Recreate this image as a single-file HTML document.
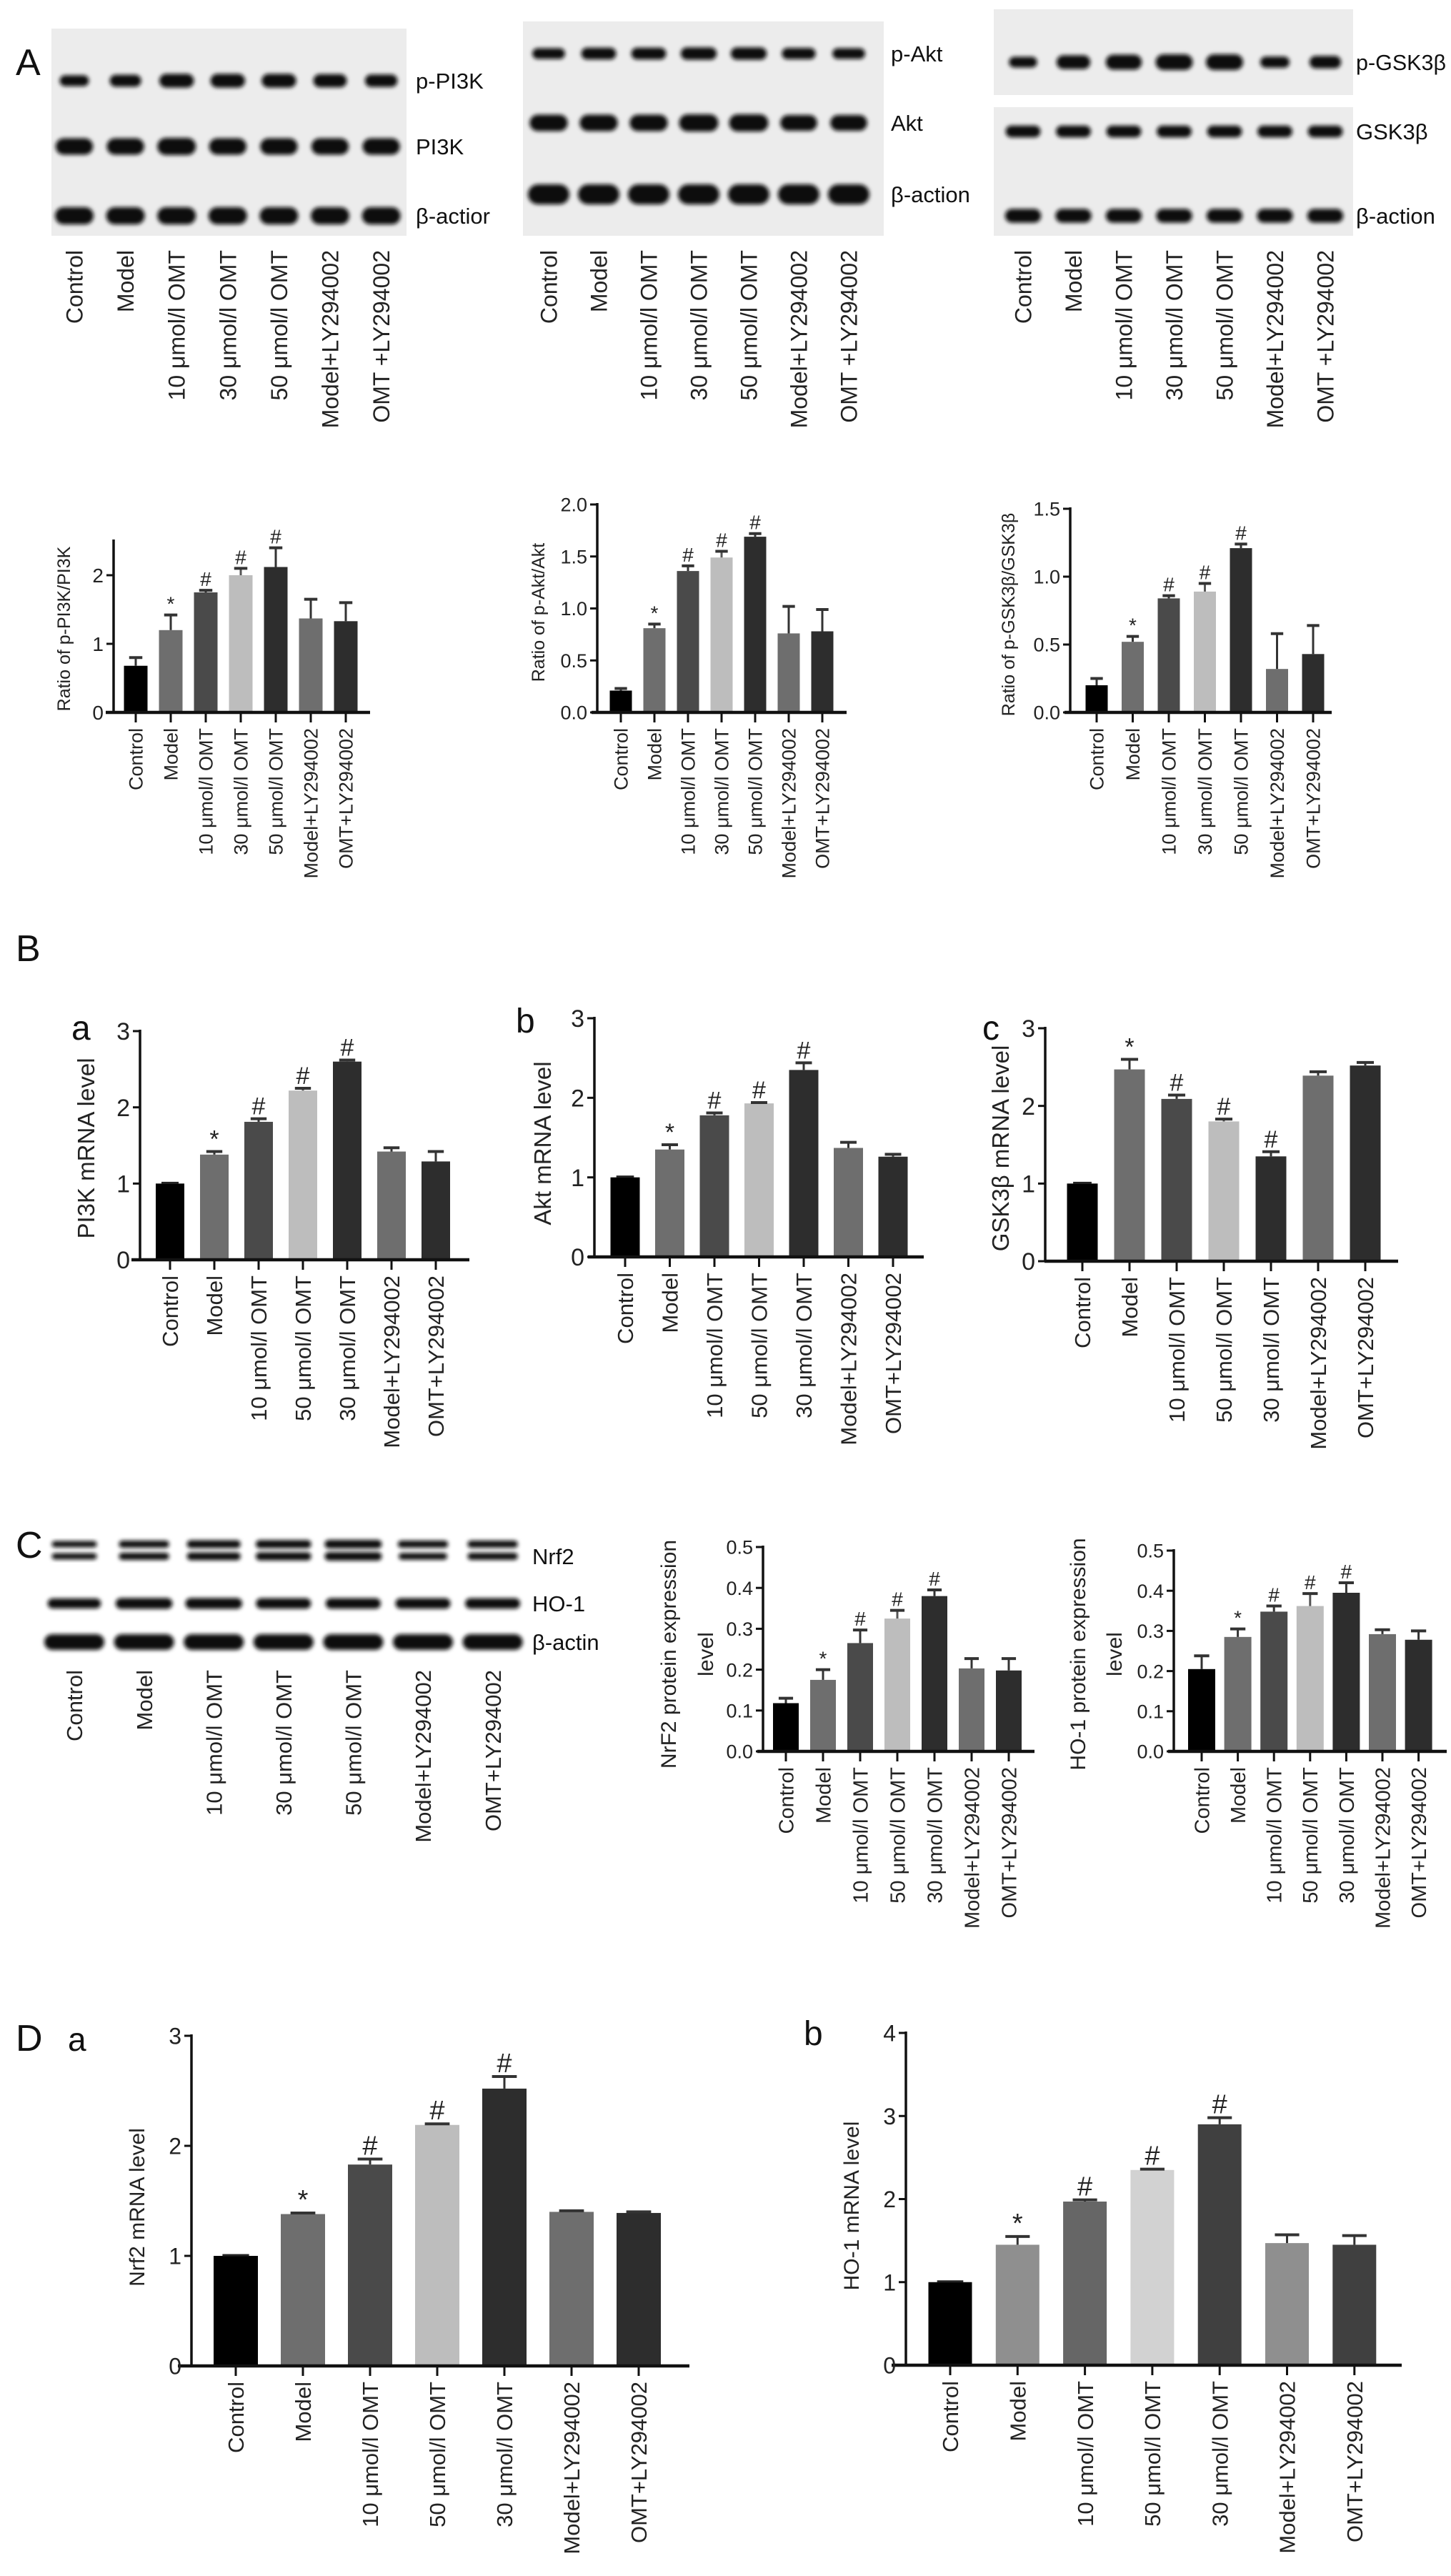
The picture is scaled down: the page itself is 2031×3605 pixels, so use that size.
<!DOCTYPE html>
<html><head><meta charset="utf-8">
<style>
html,body{margin:0;padding:0;background:#fff;}
svg{display:block;font-family:"Liberation Sans",Arial,sans-serif;}
</style></head>
<body>
<svg id="fig" width="2031" height="3605" viewBox="0 0 2031 3605" xmlns="http://www.w3.org/2000/svg">
<defs>
<filter id="blur" x="-20%" y="-50%" width="140%" height="200%"><feGaussianBlur stdDeviation="3"/></filter>
</defs>
<g id="root"></g>
</svg>
<script>
// ===== Data arrays =====
const groupsA = ["Control","Model","10 μmol/l OMT","30 μmol/l OMT","50 μmol/l OMT","Model+LY294002","OMT +LY294002"];
const groupsB = ["Control","Model","10 μmol/l OMT","50 μmol/l OMT","30 μmol/l OMT","Model+LY294002","OMT+LY294002"];
const groupsC = ["Control","Model","10 μmol/l OMT","30 μmol/l OMT","50 μmol/l OMT","Model+LY294002","OMT+LY294002"];
const groupsC2 = ["Control","Model","10 μmol/l OMT","50 μmol/l OMT","30 μmol/l OMT","Model+LY294002","OMT+LY294002"];

const a1Vals = [0.68,1.2,1.75,2.0,2.12,1.37,1.33];
const a1Errs = [0.8,1.42,1.78,2.1,2.4,1.65,1.6];
const a1Marks = ["","*","#","#","#","",""];
const a1Ticks = [0,1,2];
const a1TickLabels = ["0","1","2"];

const a2Vals = [0.21,0.81,1.36,1.49,1.69,0.76,0.78];
const a2Errs = [0.23,0.85,1.41,1.55,1.72,1.02,0.99];
const a2Marks = ["","*","#","#","#","",""];
const a2Ticks = [0,0.5,1,1.5,2];
const a2TickLabels = ["0.0","0.5","1.0","1.5","2.0"];

const a3Vals = [0.2,0.52,0.84,0.89,1.21,0.32,0.43];
const a3Errs = [0.25,0.56,0.86,0.95,1.24,0.58,0.64];
const a3Marks = ["","*","#","#","#","",""];
const a3Ticks = [0,0.5,1,1.5];
const a3TickLabels = ["0.0","0.5","1.0","1.5"];

const baVals = [1.0,1.38,1.81,2.22,2.6,1.42,1.29];
const baErrs = [1.0,1.42,1.85,2.25,2.62,1.47,1.42];
const baMarks = ["","*","#","#","#","",""];
const bbVals = [1.0,1.35,1.78,1.93,2.35,1.37,1.26];
const bbErrs = [1.0,1.41,1.81,1.94,2.44,1.44,1.29];
const bbMarks = ["","*","#","#","#","",""];
const bcVals = [1.0,2.47,2.09,1.8,1.35,2.39,2.52];
const bcErrs = [1.0,2.6,2.14,1.83,1.41,2.44,2.56];
const bcMarks = ["","*","#","#","#","",""];
const bTicks = [0,1,2,3];
const bTickLabels = ["0","1","2","3"];

const c2Vals = [0.118,0.175,0.265,0.325,0.38,0.203,0.198];
const c2Errs = [0.13,0.2,0.297,0.345,0.395,0.227,0.227];
const c2Marks = ["","*","#","#","#","",""];
const c3Vals = [0.205,0.285,0.348,0.362,0.395,0.292,0.278];
const c3Errs = [0.238,0.305,0.362,0.393,0.42,0.303,0.3];
const c3Marks = ["","*","#","#","#","",""];
const cTicks = [0,0.1,0.2,0.3,0.4,0.5];
const cTickLabels = ["0.0","0.1","0.2","0.3","0.4","0.5"];

const daVals = [1.0,1.38,1.83,2.19,2.52,1.4,1.39];
const daErrs = [1.0,1.39,1.88,2.2,2.63,1.41,1.4];
const daMarks = ["","*","#","#","#","",""];
const daTicks = [0,1,2,3];
const daTickLabels = ["0","1","2","3"];
const dbVals = [1.0,1.45,1.97,2.35,2.9,1.47,1.45];
const dbErrs = [1.0,1.55,1.99,2.36,2.98,1.57,1.56];
const dbMarks = ["","*","#","#","#","",""];
const dbTicks = [0,1,2,3,4];
const dbTickLabels = ["0","1","2","3","4"];

// ===== helpers =====
const NS="http://www.w3.org/2000/svg";
const root=document.getElementById('root');
function el(tag,attrs,parent){const e=document.createElementNS(NS,tag);for(const k in attrs)e.setAttribute(k,attrs[k]);(parent||root).appendChild(e);return e;}
function txt(s,attrs,parent){const e=el('text',attrs,parent);e.textContent=s;return e;}

const darkCols=["#000","#6e6e6e","#4a4a4a","#bdbdbd","#2d2d2d","#6e6e6e","#2d2d2d"];
const lightCols=["#000","#8f8f8f","#666","#d2d2d2","#404040","#8f8f8f","#404040"];

function barChart(o){
  const g=el('g',{});
  
  
  const ymax=o.ymax;
  const yS=v=>o.y0-(v/ymax)*(o.y0-o.yTop);
  const xS=i=>o.cx0+i*o.step;
  o.vals.forEach((v,i)=>{
    const r=el('rect',{x:xS(i)-o.bw/2,y:yS(v),width:o.bw,height:o.y0-yS(v),fill:o.cols[i]},g);
    
    
    const e=o.errs[i];
    if(e>v+0.0001){
      el('line',{x1:xS(i),x2:xS(i),y1:yS(v),y2:yS(e),stroke:o.cols[i]==="#bdbdbd"||o.cols[i]==="#d2d2d2"?"#555":"#333","stroke-width":3},g);
      el('line',{x1:xS(i)-o.bw*0.28,x2:xS(i)+o.bw*0.28,y1:yS(e),y2:yS(e),stroke:"#333","stroke-width":4},g);
    } else {
      el('line',{x1:xS(i)-o.bw*0.3,x2:xS(i)+o.bw*0.3,y1:yS(v)-1,y2:yS(v)-1,stroke:"#222","stroke-width":3},g);
    }
    if(o.marks[i]){
      const m=txt(o.marks[i],{x:xS(i),y:yS(e)-6,'font-size':o.markFs,'text-anchor':'middle',fill:'#222'},g);
      
      
    }
  });
  const ya=el('line',{x1:o.ax,x2:o.ax,y1:o.yTop-2,y2:o.y0,stroke:'#111','stroke-width':3.5},g);
  
  
  const xa=el('line',{x1:o.xl,x2:o.xr,y1:o.y0,y2:o.y0,stroke:'#111','stroke-width':4.5},g);
  
  
  o.ticks.forEach((t,i)=>{
    el('line',{x1:o.ax-10,x2:o.ax,y1:yS(t),y2:yS(t),stroke:'#111','stroke-width':3},g);
    const tl=txt(o.tickLabels[i],{x:o.ax-14,y:yS(t)+o.tickFs*0.36,'font-size':o.tickFs,'text-anchor':'end',fill:'#222'},g);
    
    
  });
  o.labels.forEach((l,i)=>{
    el('line',{x1:xS(i),x2:xS(i),y1:o.y0,y2:o.y0+14,stroke:'#111','stroke-width':3},g);
    const t=txt(l,{transform:`translate(${xS(i)+o.labFs*0.36},${o.y0+22}) rotate(-90)`,'font-size':o.labFs,'text-anchor':'end',fill:'#222'},g);
    
    
  });
  o.title.forEach((line,k)=>{
    const t=txt(line,{transform:`translate(${o.titleX[k]},${o.titleY}) rotate(-90)`,'font-size':o.titleFs,'text-anchor':'middle',fill:'#222'},g);
    
    
  });
}

// ===== Panel letters =====
[["A",22,105,52],["B",22,1345,52],["a",100,1455,48],["b",722,1445,48],["c",1375,1455,48],["C",22,2180,52],["D",22,2870,52],["a",95,2870,46],["b",1125,2862,48]].forEach(p=>{
  const t=txt(p[0],{x:p[1],y:p[2],'font-size':p[3],fill:'#111'});
  
  
});

// ===== Western blots =====
function blot(o){
  const g=el('g',{});
  
  
  o.boxes.forEach(b=>el('rect',{x:b[0],y:b[1],width:b[2],height:b[3],fill:'#ececec'},g));
  o.rows.forEach(r=>{
    for(let i=0;i<7;i++){
      const w=r.w*(r.int? (0.7+0.3*r.int[i]):1);
      const h=r.h*(r.int? (0.6+0.4*r.int[i]):1);
      el('rect',{x:o.l0+i*o.step-w/2,y:r.y-h/2,width:w,height:h,rx:h/2,fill:'#111',filter:'url(#blur)'},g);
    }
    if(r.label){
      const a={x:o.labX,y:r.y+11,'font-size':r.fs||31,fill:'#111'};
      if(r.tl){a.textLength=r.tl;a.lengthAdjust='spacingAndGlyphs';}
      const t=txt(r.label,a,g);
      
      
    }
  });
  o.lanes.forEach((l,i)=>{
    const t=txt(l,{transform:`translate(${o.l0+i*o.step+o.lfs*0.36},${o.labTop}) rotate(-90)`,'font-size':o.lfs,'text-anchor':'end',fill:'#222'},g);
    
    
  });
}
blot({name:'blot-pi3k',boxes:[[72,40,497,290]],l0:104,step:71.6,labX:582,labTop:350,lfs:32,lanes:groupsA,
  rows:[{y:113,w:50,h:20,int:[0.4,0.6,0.9,0.9,0.9,0.8,0.7],label:'p-PI3K'},{y:205,w:54,h:24,int:[0.9,0.9,1,0.9,0.9,0.9,0.9],label:'PI3K'},{y:302,w:54,h:24,int:[1,1,1,1,1,1,1],label:'β-actior'}]});
blot({name:'blot-akt',boxes:[[732,30,505,300]],l0:768,step:70,labX:1247,labTop:350,lfs:32,lanes:groupsA,
  rows:[{y:75,w:52,h:18,int:[0.6,0.8,0.8,0.9,0.9,0.7,0.6],label:'p-Akt'},{y:172,w:55,h:24,int:[0.9,0.9,0.9,1,1,0.8,0.8],label:'Akt'},{y:272,w:58,h:28,int:[1,1,1,1,1,1,1],label:'β-action'}]});
blot({name:'blot-gsk3b',boxes:[[1391,13,503,120],[1391,150,503,180]],l0:1432,step:70.5,labX:1898,labTop:350,lfs:32,lanes:groupsA,
  rows:[{y:87,w:52,h:22,int:[0.2,0.7,0.9,1,1,0.3,0.5],label:'p-GSK3β',tl:126},{y:184,w:52,h:18,int:[0.8,0.8,0.8,0.8,0.8,0.8,0.8],label:'GSK3β'},{y:302,w:52,h:20,int:[0.9,0.9,0.9,0.9,0.9,0.9,0.9],label:'β-action'}]});
blot({name:'blot-nrf2-ho1',boxes:[],l0:104,step:97.6,labX:745,labTop:2337,lfs:31,lanes:groupsC,
  rows:[{y:2161,w:80,h:12,int:[0.3,0.6,0.8,0.9,1,0.6,0.6],label:''},{y:2178,w:80,h:12,int:[0.3,0.6,0.8,0.9,1,0.5,0.6],label:'Nrf2'},{y:2244,w:82,h:16,int:[0.7,0.9,0.9,0.8,0.8,0.8,0.8],label:'HO-1'},{y:2298,w:84,h:22,int:[1,1,1,1,1,1,1],label:'β-actin'}]});

// ===== Bar charts =====
barChart({name:'chart-p-pi3k-ratio',vals:a1Vals,errs:a1Errs,marks:a1Marks,ticks:a1Ticks,tickLabels:a1TickLabels,labels:groupsA.map(s=>s.replace(' +','+')),
  ymax:2.5,y0:997,yTop:757,ax:159,xl:148,xr:518,cx0:190,step:49,bw:33,cols:darkCols,tickFs:28,labFs:27,markFs:28,
  title:['Ratio of p-PI3K/PI3K'],titleX:[98],titleY:880,titleFs:25});
barChart({name:'chart-p-akt-ratio',vals:a2Vals,errs:a2Errs,marks:a2Marks,ticks:a2Ticks,tickLabels:a2TickLabels,labels:groupsA.map(s=>s.replace(' +','+')),
  ymax:2.0,y0:997,yTop:706,ax:836,xl:828,xr:1185,cx0:869,step:47,bw:31,cols:darkCols,tickFs:27,labFs:27,markFs:28,
  title:['Ratio of p-Akt/Akt'],titleX:[762],titleY:857,titleFs:25});
barChart({name:'chart-p-gsk3b-ratio',vals:a3Vals,errs:a3Errs,marks:a3Marks,ticks:a3Ticks,tickLabels:a3TickLabels,labels:groupsA.map(s=>s.replace(' +','+')),
  ymax:1.5,y0:997,yTop:712,ax:1498,xl:1490,xr:1864,cx0:1535,step:50.5,bw:31,cols:darkCols,tickFs:27,labFs:27,markFs:28,
  title:['Ratio of p-GSK3β/GSK3β'],titleX:[1420],titleY:860,titleFs:25});

barChart({name:'chart-pi3k-mrna',vals:baVals,errs:baErrs,marks:baMarks,ticks:bTicks,tickLabels:bTickLabels,labels:groupsB,
  ymax:3,y0:1763,yTop:1443,ax:196,xl:184,xr:657,cx0:238,step:62,bw:40,cols:darkCols,tickFs:34,labFs:31,markFs:34,
  title:['PI3K mRNA level'],titleX:[132],titleY:1607,titleFs:33});
barChart({name:'chart-akt-mrna',vals:bbVals,errs:bbErrs,marks:bbMarks,ticks:bTicks,tickLabels:bTickLabels,labels:groupsB,
  ymax:3,y0:1759,yTop:1425,ax:832,xl:823,xr:1293,cx0:875,step:62.5,bw:41,cols:darkCols,tickFs:34,labFs:31,markFs:34,
  title:['Akt mRNA level'],titleX:[771],titleY:1600,titleFs:33});
barChart({name:'chart-gsk3b-mrna',vals:bcVals,errs:bcErrs,marks:bcMarks,ticks:bTicks,tickLabels:bTickLabels,labels:groupsB,
  ymax:3,y0:1765,yTop:1439,ax:1463,xl:1462,xr:1957,cx0:1515,step:66,bw:43,cols:darkCols,tickFs:34,labFs:31,markFs:34,
  title:['GSK3β mRNA level'],titleX:[1412],titleY:1607,titleFs:33});

barChart({name:'chart-nrf2-protein',vals:c2Vals,errs:c2Errs,marks:c2Marks,ticks:cTicks,tickLabels:cTickLabels,labels:groupsC2,
  ymax:0.5,y0:2451,yTop:2165,ax:1068,xl:1060,xr:1448,cx0:1100,step:52,bw:36,cols:darkCols,tickFs:27,labFs:29,markFs:28,
  title:['NrF2 protein expression','level'],titleX:[946,998],titleY:2315,titleFs:30});
barChart({name:'chart-ho1-protein',vals:c3Vals,errs:c3Errs,marks:c3Marks,ticks:cTicks,tickLabels:cTickLabels,labels:groupsC2,
  ymax:0.5,y0:2451,yTop:2170,ax:1643,xl:1635,xr:2025,cx0:1682,step:50.6,bw:38,cols:darkCols,tickFs:27,labFs:29,markFs:28,
  title:['HO-1 protein expression','level'],titleX:[1519,1570],titleY:2315,titleFs:30});

barChart({name:'chart-nrf2-mrna',vals:daVals,errs:daErrs,marks:daMarks,ticks:daTicks,tickLabels:daTickLabels,labels:groupsB,
  ymax:3,y0:3311,yTop:2849,ax:268,xl:249,xr:965,cx0:330,step:94,bw:62,cols:darkCols,tickFs:32,labFs:31,markFs:38,
  title:['Nrf2 mRNA level'],titleX:[202],titleY:3089,titleFs:30});
barChart({name:'chart-ho1-mrna',vals:dbVals,errs:dbErrs,marks:dbMarks,ticks:dbTicks,tickLabels:dbTickLabels,labels:groupsB,
  ymax:4,y0:3310,yTop:2845,ax:1268,xl:1248,xr:1962,cx0:1330,step:94.3,bw:61,cols:lightCols,tickFs:32,labFs:31,markFs:38,
  title:['HO-1 mRNA level'],titleX:[1202],titleY:3087,titleFs:30});
</script>
</body></html>
